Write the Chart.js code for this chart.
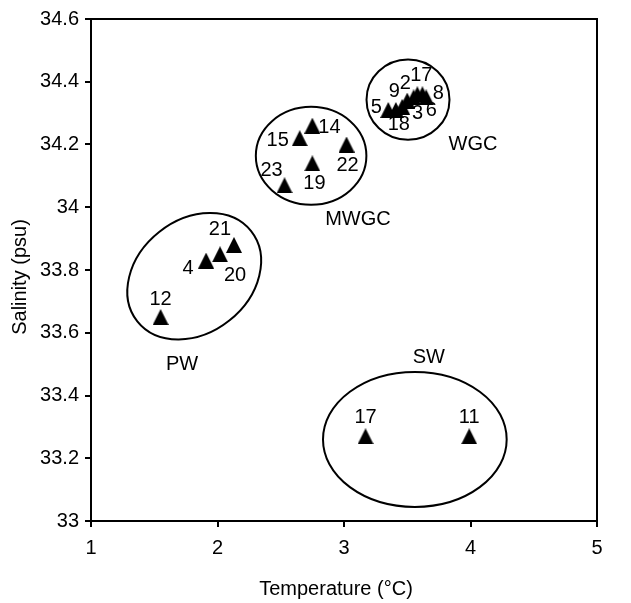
<!DOCTYPE html>
<html>
<head>
<meta charset="utf-8">
<script src="https://cdn.jsdelivr.net/npm/chart.js@4/dist/chart.umd.min.js"></script>
<style>
  html, body { margin: 0; padding: 0; background: #fff; }
  #wrap { width: 631px; height: 603px; }
</style>
</head>
<body>
<div id="wrap"><canvas id="c" width="631" height="603"></canvas></div>
<script>
// ---- data ----
const stations    = ['12','4','20','21', '15','14','22','19','23', '5','18','9','2','3','17','6','8', '17','11'];
const temperature = [1.55, 1.91, 2.02, 2.13,  2.65, 2.75, 3.02, 2.75, 2.53,  3.35, 3.41, 3.46, 3.50, 3.55, 3.58, 3.62, 3.65,  3.17, 3.99];
const salinity    = [33.65, 33.83, 33.85, 33.88,  34.22, 34.26, 34.20, 34.14, 34.07,  34.31, 34.31, 34.32, 34.34, 34.35, 34.36, 34.36, 34.35,  33.27, 33.27];

const groupNames  = ['PW', 'MWGC', 'WGC', 'SW'];
const groupLabelT = [1.72, 3.11, 4.02, 3.67];
const groupLabelS = [33.50, 33.96, 34.20, 33.52];

const ellCenterT = [1.816, 2.74, 3.506, 3.56];
const ellCenterS = [33.78, 34.164, 34.343, 33.26];
const ellRadT    = [0.574, 0.437, 0.328, 0.726];
const ellRadS    = [0.180, 0.156, 0.128, 0.215];
const ellTilt    = [-38.4, 0, 0, 0];

const xTicks = [1, 2, 3, 4, 5];
const yTicks = [33, 33.2, 33.4, 33.6, 33.8, 34, 34.2, 34.4, 34.6];
const xTitle = 'Temperature (°C)';
const yTitle = 'Salinity (psu)';

// ---- label placement (pixels, relative to each marker) ----
const labelOffsets = [
  [0,-18], [-18,8], [15,21], [-14,-15],
  [-22,2], [17,2], [1,21], [2,20], [-13,-15],
  [-12,-3], [3,14], [-8,-15], [-2,-17], [4,16], [4,-19], [9,16], [12,-4],
  [0,-19], [0,-19]
];

const FONT = '"Liberation Sans", Arial, sans-serif';
const FS = 20;

// filled triangle marker (bounding box centred on the value)
function makeTriangle(w, h) {
  const cv = document.createElement('canvas');
  cv.width = w; cv.height = h;
  const g = cv.getContext('2d');
  g.fillStyle = '#000';
  g.beginPath();
  g.moveTo(w / 2, 0);
  g.lineTo(w, h);
  g.lineTo(0, h);
  g.closePath();
  g.fill();
  return cv;
}
const triangle = makeTriangle(16, 16);

const points = temperature.map((t, i) => ({ x: t, y: salinity[i] }));

const overlay = {
  id: 'overlay',
  beforeDatasetsDraw(chart) {
    const ctx = chart.ctx, xs = chart.scales.x, ys = chart.scales.y;
    ctx.save();
    ctx.strokeStyle = '#000';
    ctx.lineWidth = 2;
    for (let i = 0; i < ellCenterT.length; i++) {
      const cx = xs.getPixelForValue(ellCenterT[i]);
      const cy = ys.getPixelForValue(ellCenterS[i]);
      const rx = Math.abs(xs.getPixelForValue(ellCenterT[i] + ellRadT[i]) - cx);
      const ry = Math.abs(ys.getPixelForValue(ellCenterS[i] + ellRadS[i]) - cy);
      ctx.beginPath();
      ctx.ellipse(cx, cy, rx, ry, ellTilt[i] * Math.PI / 180, 0, Math.PI * 2);
      ctx.stroke();
    }
    ctx.restore();
  },
  afterDatasetsDraw(chart) {
    const ctx = chart.ctx, xs = chart.scales.x, ys = chart.scales.y;
    const a = chart.chartArea;
    ctx.save();
    ctx.fillStyle = '#000';
    ctx.font = FS + 'px ' + FONT;
    ctx.textAlign = 'center';
    ctx.textBaseline = 'middle';
    const meta = chart.getDatasetMeta(0);
    meta.data.forEach((el, i) => {
      const o = labelOffsets[i] || [0, -18];
      ctx.fillText(stations[i], el.x + o[0], el.y + o[1]);
    });
    for (let i = 0; i < groupNames.length; i++) {
      ctx.fillText(groupNames[i], xs.getPixelForValue(groupLabelT[i]), ys.getPixelForValue(groupLabelS[i]));
    }
    ctx.strokeStyle = '#000';
    ctx.lineWidth = 2;
    ctx.strokeRect(a.left, a.top, a.right - a.left, a.bottom - a.top);

    // axis titles (placed as in the reference, slightly off the plot centre)
    const midX = (a.left + a.right) / 2, midY = (a.top + a.bottom) / 2;
    ctx.fillText(xTitle, midX - 8, chart.height - 14);
    ctx.translate(20, midY + 7);
    ctx.rotate(-Math.PI / 2);
    ctx.fillText(yTitle, 0, 0);
    ctx.restore();
  }
};

const whiteBg = {
  id: 'whiteBg',
  beforeDraw(chart) {
    const ctx = chart.ctx;
    ctx.save();
    ctx.fillStyle = '#fff';
    ctx.fillRect(0, 0, chart.width, chart.height);
    ctx.restore();
  }
};

new Chart(document.getElementById('c'), {
  type: 'scatter',
  data: {
    datasets: [{
      data: points,
      pointStyle: triangle,
      pointRadius: 8,
      pointHoverRadius: 8,
      backgroundColor: '#000',
      borderColor: '#000',
      borderWidth: 0
    }]
  },
  options: {
    responsive: false,
    animation: false,
    events: [],
    layout: { padding: { left: 0, top: 19, right: 34, bottom: 0 } },
    plugins: { legend: { display: false }, tooltip: { enabled: false } },
    scales: {
      x: {
        type: 'linear',
        min: 1, max: 5,
        afterBuildTicks(s) { s.ticks = xTicks.map(v => ({ value: v })); },
        afterFit(s) { s.height = 82; },
        ticks: { color: '#000', font: { family: FONT, size: FS }, padding: 9,
                 callback: v => String(v) },
        grid: { drawOnChartArea: false, drawTicks: true, tickLength: 6, color: '#000', lineWidth: 2 },
        border: { display: true, color: '#000', width: 2 },
        title: { display: false }
      },
      y: {
        type: 'linear',
        min: 33, max: 34.6,
        afterBuildTicks(s) { s.ticks = yTicks.map(v => ({ value: v })); },
        afterFit(s) { s.width = 91; },
        ticks: { color: '#000', font: { family: FONT, size: FS }, padding: 6,
                 callback: v => String(Number(v.toFixed(1))) },
        grid: { drawOnChartArea: false, drawTicks: true, tickLength: 6, color: '#000', lineWidth: 2 },
        border: { display: true, color: '#000', width: 2 },
        title: { display: false }
      }
    }
  },
  plugins: [whiteBg, overlay]
});
</script>
</body>
</html>
